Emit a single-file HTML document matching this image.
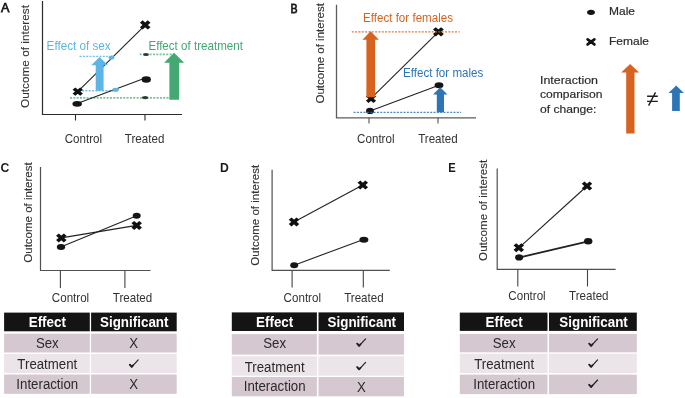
<!DOCTYPE html>
<html><head><meta charset="utf-8">
<style>
html,body{margin:0;padding:0;background:#fff;}
body{width:685px;height:398px;overflow:hidden;}
svg{display:block;will-change:transform;}
text{font-family:"Liberation Sans",sans-serif;}
</style></head>
<body>
<svg width="685" height="398" viewBox="0 0 685 398">
<rect width="685" height="398" fill="#fff"/>
<text x="1.0" y="11.8" font-size="12.6" fill="#1a1a1a" stroke="#1a1a1a" stroke-width="0.75">A</text>
<text transform="translate(28.8,56.5) rotate(-90)" stroke="#333" stroke-width="0.12" text-anchor="middle" font-size="11.8" fill="#333">Outcome of interest</text>
<path d="M42.5,1V114.5H182" stroke="#2b2b2b" stroke-width="1.2" fill="none"/>
<path d="M75.5,114.5V120.5M145,114.5V120.5" stroke="#2b2b2b" stroke-width="1.1"/>
<text transform="translate(83.4,143) scale(1,1.08)" text-anchor="middle" font-size="11.6" fill="#333" >Control</text>
<text transform="translate(144.6,143) scale(1,1.08)" text-anchor="middle" font-size="11.6" fill="#333" >Treated</text>
<path d="M79.5,56.4H110M82,90.8H114" stroke="#5db5e6" stroke-width="1.4" stroke-dasharray="2,1.33" opacity="0.85"/>
<path d="M70,97.9H169M139.6,54.4H174" stroke="#5cb985" stroke-width="1.8" stroke-dasharray="2,1.33" opacity="0.85"/>
<path d="M77.7,91.6L145.2,25.2" stroke="#222" stroke-width="1.1"/>
<path d="M77.2,103.4L146,77.8" stroke="#222" stroke-width="1.1"/>
<ellipse cx="111.5" cy="57.4" rx="2.8" ry="2.0" fill="#5db5e6"/>
<ellipse cx="115.6" cy="89.8" rx="3.3" ry="2.0" fill="#5db5e6"/>
<ellipse cx="146" cy="54.5" rx="2.9" ry="1.5" fill="#2d3b33"/>
<ellipse cx="145.1" cy="97.6" rx="3.1" ry="1.6" fill="#2d3b33"/>
<path d="M95.7,90.8V65.3H91.3L99.6,56.9L107.9,65.3H103.6V90.8Z" fill="#5db5e6"/>
<path d="M169.4,99.8V62.7H164.1L174,52.8L184.2,62.7H179.1V99.8Z" fill="#44a872"/>
<path transform="translate(77.75,91.6) scale(0.945,0.752)" d="M-4.04,-4.04L4.04,4.04M-4.04,4.04L4.04,-4.04" stroke="#111" stroke-width="4.0" stroke-linecap="butt" fill="none"/>
<path transform="translate(145.2,24.95) scale(0.972,0.853)" d="M-4.04,-4.04L4.04,4.04M-4.04,4.04L4.04,-4.04" stroke="#111" stroke-width="4.0" stroke-linecap="butt" fill="none"/>
<ellipse cx="77.2" cy="103.85" rx="4.8" ry="2.9" fill="#151515"/>
<ellipse cx="146.25" cy="79.5" rx="4.65" ry="3.25" fill="#151515"/>
<text transform="translate(46.6,50.3) scale(1,1.04)" font-size="11.7" fill="#5db5e6" >Effect of sex</text>
<text transform="translate(148.4,50.4) scale(1,1.04)" font-size="11.6" fill="#44a872" >Effect of treatment</text>
<text x="290.6" y="12.6" font-size="12.2" fill="#1a1a1a" stroke="#1a1a1a" stroke-width="0.75" transform="translate(290.6,0) scale(0.87,1) translate(-290.6,0)">B</text>
<text transform="translate(323.5,53.35) rotate(-90)" stroke="#333" stroke-width="0.12" text-anchor="middle" font-size="11.5" fill="#333">Outcome of interest</text>
<path d="M336.5,4.8V117.8H476" stroke="#5c5c5c" stroke-width="1.3" fill="none"/>
<path d="M369,117.8V123.5M438,117.8V123.5" stroke="#555" stroke-width="1.1"/>
<text transform="translate(375.8,143) scale(1,1.08)" text-anchor="middle" font-size="11.6" fill="#333" >Control</text>
<text transform="translate(437.9,142.8) scale(1,1.08)" text-anchor="middle" font-size="11.6" fill="#333" >Treated</text>
<path d="M371,98.3L438.4,31.8" stroke="#222" stroke-width="1.1"/>
<path d="M370,110.9L439,85.3" stroke="#222" stroke-width="1.1"/>
<path transform="translate(371,98.6) scale(0.936,0.807)" d="M-4.04,-4.04L4.04,4.04M-4.04,4.04L4.04,-4.04" stroke="#111" stroke-width="4.0" stroke-linecap="butt" fill="none"/>
<path transform="translate(438.4,31.8) scale(1.000,0.844)" d="M-4.04,-4.04L4.04,4.04M-4.04,4.04L4.04,-4.04" stroke="#111" stroke-width="4.0" stroke-linecap="butt" fill="none"/>
<ellipse cx="370" cy="110.9" rx="3.95" ry="3.15" fill="#151515"/>
<ellipse cx="439" cy="85.3" rx="4.4" ry="3.0" fill="#151515"/>
<path d="M351.8,31.8H459.6" stroke="#d6631f" stroke-width="1.3" stroke-dasharray="2,1.33" opacity="0.85"/>
<path d="M353.6,112.4H461.1" stroke="#2e75b6" stroke-width="1.3" stroke-dasharray="2,1.33" opacity="0.85"/>
<path d="M366.4,97.3V39.7H362.4L370.6,31.2L378.9,39.7H375.1V97.3Z" fill="#d6631f"/>
<path d="M436.8,112.3V94.4H433L440.2,87.2L447.5,94.4H444V112.3Z" fill="#2e75b6"/>
<text transform="translate(363,22.1) scale(1,1.04)" font-size="11.6" fill="#d6631f" >Effect for females</text>
<text transform="translate(403,77) scale(1,1.04)" font-size="11.6" fill="#2e75b6" >Effect for males</text>
<ellipse cx="591" cy="12.3" rx="3.9" ry="2.65" fill="#151515"/>
<path d="M587.6,39.35L594.4,44.45M587.6,44.45L594.4,39.35" stroke="#111" stroke-width="2.7" stroke-linecap="round" fill="none"/>
<text transform="translate(609,14.5) scale(1,0.91)" x="0" y="0" font-size="12" fill="#2c2c2c" stroke="#2c2c2c" stroke-width="0.2" >Male</text>
<text transform="translate(609,44.5) scale(1,0.91)" x="0" y="0" font-size="12" fill="#2c2c2c" stroke="#2c2c2c" stroke-width="0.2" >Female</text>
<text transform="translate(540,84.4) scale(1,0.91)" x="0" y="0" font-size="12.3" fill="#2c2c2c" stroke="#2c2c2c" stroke-width="0.2" textLength="58" lengthAdjust="spacingAndGlyphs">Interaction</text>
<text transform="translate(540,98.3) scale(1,0.91)" x="0" y="0" font-size="12.1" fill="#2c2c2c" stroke="#2c2c2c" stroke-width="0.2" >comparison</text>
<text transform="translate(540,112.7) scale(1,0.91)" x="0" y="0" font-size="12.1" fill="#2c2c2c" stroke="#2c2c2c" stroke-width="0.2" >of change:</text>
<path d="M626.2,133.6V72.6H621.2L630.1,64L639.1,72.6H634.5V133.6Z" fill="#d6631f"/>
<path d="M647.1,96.3H657.8M647.1,101.4H657.8M655.5,92.4L648.6,105.6" stroke="#1e1e1e" stroke-width="1.4" fill="none"/>
<path d="M672.1,110.9V93H668.5L676.2,85.5L683.9,93H679.8V110.9Z" fill="#2e75b6"/>
<text x="0.6" y="171.8" font-size="12.2" font-weight="bold" fill="#1a1a1a">C</text>
<text transform="translate(31.7,212.5) rotate(-90)" stroke="#333" stroke-width="0.12" text-anchor="middle" font-size="11.5" fill="#333">Outcome of interest</text>
<path d="M40.5,167V270.5H150.6" stroke="#505050" stroke-width="1.2" fill="none"/>
<path d="M60.4,270.5V287.9M124.9,270.5V287.9" stroke="#444" stroke-width="1.1"/>
<text transform="translate(70.5,302.3) scale(1,1.08)" text-anchor="middle" font-size="11.6" fill="#333" >Control</text>
<text transform="translate(132.5,302.3) scale(1,1.08)" text-anchor="middle" font-size="11.6" fill="#333" >Treated</text>
<path d="M61.3,237.9L136.7,225.4" stroke="#222" stroke-width="1.1"/>
<path d="M60.7,247L136.7,215.8" stroke="#222" stroke-width="1.1"/>
<path transform="translate(61.3,237.9) scale(0.963,0.826)" d="M-4.04,-4.04L4.04,4.04M-4.04,4.04L4.04,-4.04" stroke="#111" stroke-width="4.0" stroke-linecap="butt" fill="none"/>
<path transform="translate(136.7,225.4) scale(0.963,0.826)" d="M-4.04,-4.04L4.04,4.04M-4.04,4.04L4.04,-4.04" stroke="#111" stroke-width="4.0" stroke-linecap="butt" fill="none"/>
<ellipse cx="61" cy="246.9" rx="4.2" ry="3.0" fill="#151515"/>
<ellipse cx="136.7" cy="215.8" rx="4.0" ry="3.05" fill="#151515"/>
<text x="220.1" y="171.6" font-size="12.2" font-weight="bold" fill="#1a1a1a">D</text>
<text transform="translate(259.3,215.25) rotate(-90)" stroke="#333" stroke-width="0.12" text-anchor="middle" font-size="11.55" fill="#333">Outcome of interest</text>
<path d="M272.1,169.8V270.3H389.8" stroke="#505050" stroke-width="1.2" fill="none"/>
<path d="M292.1,270.3V287.6M363.3,270.3V287.6" stroke="#444" stroke-width="1.1"/>
<text transform="translate(302.3,301.5) scale(1,1.08)" text-anchor="middle" font-size="11.6" fill="#333" >Control</text>
<text transform="translate(363.9,301.5) scale(1,1.08)" text-anchor="middle" font-size="11.6" fill="#333" >Treated</text>
<path d="M294,221.9L362.8,185" stroke="#222" stroke-width="1.1"/>
<path d="M294.2,265.2L363.5,239.4" stroke="#222" stroke-width="1.1"/>
<path transform="translate(294,221.9) scale(0.963,0.826)" d="M-4.04,-4.04L4.04,4.04M-4.04,4.04L4.04,-4.04" stroke="#111" stroke-width="4.0" stroke-linecap="butt" fill="none"/>
<path transform="translate(362.8,185) scale(0.963,0.826)" d="M-4.04,-4.04L4.04,4.04M-4.04,4.04L4.04,-4.04" stroke="#111" stroke-width="4.0" stroke-linecap="butt" fill="none"/>
<ellipse cx="294.2" cy="265.2" rx="4.0" ry="3.05" fill="#151515"/>
<ellipse cx="363.9" cy="239.7" rx="4.5" ry="3.05" fill="#151515"/>
<text x="448.2" y="171.6" font-size="12.2" font-weight="bold" fill="#1a1a1a" transform="translate(448.2,0) scale(0.92,1) translate(-448.2,0)">E</text>
<text transform="translate(487,210.3) rotate(-90)" stroke="#333" stroke-width="0.12" text-anchor="middle" font-size="11.6" fill="#333">Outcome of interest</text>
<path d="M497.2,168.6V269.3H615.6" stroke="#505050" stroke-width="1.2" fill="none"/>
<path d="M517.8,269.3V286.6M587.5,269.3V286.6" stroke="#444" stroke-width="1.1"/>
<text transform="translate(527,300.2) scale(1,1.08)" text-anchor="middle" font-size="11.6" fill="#333" >Control</text>
<text transform="translate(588.8,300.2) scale(1,1.08)" text-anchor="middle" font-size="11.6" fill="#333" >Treated</text>
<path d="M518.9,247.8L587,186" stroke="#222" stroke-width="1.1"/>
<path d="M518.9,257.6L588.2,241.3" stroke="#222" stroke-width="1.8"/>
<path transform="translate(518.8,247.7) scale(0.963,0.826)" d="M-4.04,-4.04L4.04,4.04M-4.04,4.04L4.04,-4.04" stroke="#111" stroke-width="4.0" stroke-linecap="butt" fill="none"/>
<path transform="translate(587,186) scale(0.963,0.826)" d="M-4.04,-4.04L4.04,4.04M-4.04,4.04L4.04,-4.04" stroke="#111" stroke-width="4.0" stroke-linecap="butt" fill="none"/>
<ellipse cx="519.1" cy="257.4" rx="4.0" ry="3.1" fill="#151515"/>
<ellipse cx="588.2" cy="241.3" rx="4.2" ry="3.3" fill="#151515"/>
<rect x="4.1" y="312.6" width="85.70" height="18.70" fill="#141414"/>
<rect x="91.1" y="312.6" width="85.60" height="18.70" fill="#141414"/>
<rect x="4.1" y="333.7" width="85.70" height="18.80" fill="#d6c8d0"/>
<rect x="91.1" y="333.7" width="85.60" height="18.80" fill="#d6c8d0"/>
<rect x="4.1" y="354" width="85.70" height="19.00" fill="#ebe4e8"/>
<rect x="91.1" y="354" width="85.60" height="19.00" fill="#ebe4e8"/>
<rect x="4.1" y="374.5" width="85.70" height="19.30" fill="#d6c8d0"/>
<rect x="91.1" y="374.5" width="85.60" height="19.30" fill="#d6c8d0"/>
<text transform="translate(47.3,327.3) scale(1,1.06)" text-anchor="middle" font-size="13.4" font-weight="bold" fill="#fff" >Effect</text>
<text transform="translate(134.25,327.3) scale(1,1.06)" text-anchor="middle" font-size="13.4" font-weight="bold" fill="#fff" >Significant</text>
<text transform="translate(47.3,348.3) scale(1,1.07)" text-anchor="middle" font-size="13.25" fill="#2a2a2a" >Sex</text>
<text transform="translate(47.3,368.8) scale(1,1.07)" text-anchor="middle" font-size="13.25" fill="#2a2a2a" >Treatment</text>
<text transform="translate(47.3,389) scale(1,1.07)" text-anchor="middle" font-size="13.25" fill="#2a2a2a" >Interaction</text>
<text transform="translate(133.7,348.3) scale(1,1.07)" text-anchor="middle" font-size="13.2" fill="#2a2a2a" >X</text>
<path d="M129.80,364.50L131.80,366.80L138.20,359.80" stroke="#222" stroke-width="1.15" stroke-linejoin="round" stroke-linecap="round" fill="none"/><path d="M129.80,364.60L131.70,366.80L133.00,365.30" stroke="#222" stroke-width="1.8" stroke-linecap="round" stroke-linejoin="round" fill="none"/>
<text transform="translate(133.7,389.2) scale(1,1.07)" text-anchor="middle" font-size="13.2" fill="#2a2a2a" >X</text>
<rect x="231.8" y="312.4" width="85.10" height="18.60" fill="#141414"/>
<rect x="318.5" y="312.4" width="85.50" height="18.60" fill="#141414"/>
<rect x="231.8" y="334.1" width="85.10" height="20.50" fill="#d6c8d0"/>
<rect x="318.5" y="334.1" width="85.50" height="20.50" fill="#d6c8d0"/>
<rect x="231.8" y="356.3" width="85.10" height="19.40" fill="#ebe4e8"/>
<rect x="318.5" y="356.3" width="85.50" height="19.40" fill="#ebe4e8"/>
<rect x="231.8" y="377" width="85.10" height="19.30" fill="#d6c8d0"/>
<rect x="318.5" y="377" width="85.50" height="19.30" fill="#d6c8d0"/>
<text transform="translate(274.65,327) scale(1,1.06)" text-anchor="middle" font-size="13.4" font-weight="bold" fill="#fff" >Effect</text>
<text transform="translate(361.8,327) scale(1,1.06)" text-anchor="middle" font-size="13.4" font-weight="bold" fill="#fff" >Significant</text>
<text transform="translate(274.65,347.8) scale(1,1.07)" text-anchor="middle" font-size="13.25" fill="#2a2a2a" >Sex</text>
<text transform="translate(274.65,371.7) scale(1,1.07)" text-anchor="middle" font-size="13.25" fill="#2a2a2a" >Treatment</text>
<text transform="translate(274.65,391.4) scale(1,1.07)" text-anchor="middle" font-size="13.25" fill="#2a2a2a" >Interaction</text>
<path d="M357.20,343.50L359.20,345.80L365.60,338.80" stroke="#222" stroke-width="1.15" stroke-linejoin="round" stroke-linecap="round" fill="none"/><path d="M357.20,343.60L359.10,345.80L360.40,344.30" stroke="#222" stroke-width="1.8" stroke-linecap="round" stroke-linejoin="round" fill="none"/>
<path d="M357.20,367.00L359.20,369.30L365.60,362.30" stroke="#222" stroke-width="1.15" stroke-linejoin="round" stroke-linecap="round" fill="none"/><path d="M357.20,367.10L359.10,369.30L360.40,367.80" stroke="#222" stroke-width="1.8" stroke-linecap="round" stroke-linejoin="round" fill="none"/>
<text transform="translate(361.3,392.2) scale(1,1.07)" text-anchor="middle" font-size="13.2" fill="#2a2a2a" >X</text>
<rect x="459.8" y="312.6" width="87.70" height="18.30" fill="#141414"/>
<rect x="549" y="312.6" width="87.80" height="18.30" fill="#141414"/>
<rect x="459.8" y="333.9" width="87.70" height="18.40" fill="#d6c8d0"/>
<rect x="549" y="333.9" width="87.80" height="18.40" fill="#d6c8d0"/>
<rect x="459.8" y="353.7" width="87.70" height="19.30" fill="#ebe4e8"/>
<rect x="549" y="353.7" width="87.80" height="19.30" fill="#ebe4e8"/>
<rect x="459.8" y="374.6" width="87.70" height="19.50" fill="#d6c8d0"/>
<rect x="549" y="374.6" width="87.80" height="19.50" fill="#d6c8d0"/>
<text transform="translate(504.15,327.1) scale(1,1.06)" text-anchor="middle" font-size="13.4" font-weight="bold" fill="#fff" >Effect</text>
<text transform="translate(593.55,327.1) scale(1,1.06)" text-anchor="middle" font-size="13.4" font-weight="bold" fill="#fff" >Significant</text>
<text transform="translate(504.15,347.8) scale(1,1.07)" text-anchor="middle" font-size="13.25" fill="#2a2a2a" >Sex</text>
<text transform="translate(504.15,369.2) scale(1,1.07)" text-anchor="middle" font-size="13.25" fill="#2a2a2a" >Treatment</text>
<text transform="translate(504.15,388.8) scale(1,1.07)" text-anchor="middle" font-size="13.25" fill="#2a2a2a" >Interaction</text>
<path d="M589.20,343.50L591.20,345.80L597.60,338.80" stroke="#222" stroke-width="1.15" stroke-linejoin="round" stroke-linecap="round" fill="none"/><path d="M589.20,343.60L591.10,345.80L592.40,344.30" stroke="#222" stroke-width="1.8" stroke-linecap="round" stroke-linejoin="round" fill="none"/>
<path d="M589.20,364.50L591.20,366.80L597.60,359.80" stroke="#222" stroke-width="1.15" stroke-linejoin="round" stroke-linecap="round" fill="none"/><path d="M589.20,364.60L591.10,366.80L592.40,365.30" stroke="#222" stroke-width="1.8" stroke-linecap="round" stroke-linejoin="round" fill="none"/>
<path d="M589.20,384.70L591.20,387.00L597.60,380.00" stroke="#222" stroke-width="1.15" stroke-linejoin="round" stroke-linecap="round" fill="none"/><path d="M589.20,384.80L591.10,387.00L592.40,385.50" stroke="#222" stroke-width="1.8" stroke-linecap="round" stroke-linejoin="round" fill="none"/>
</svg>
</body></html>
